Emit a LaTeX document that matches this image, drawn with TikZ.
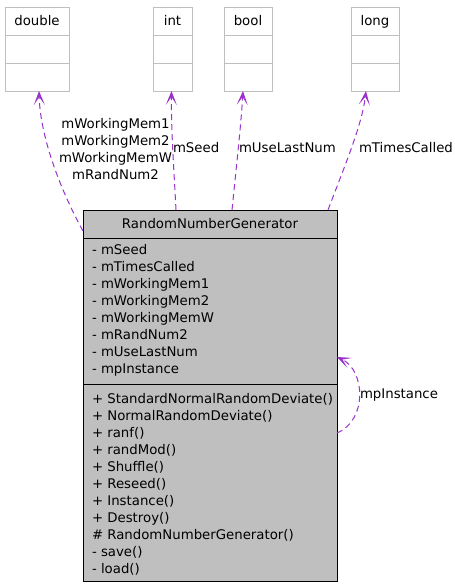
\documentclass[tikz,border=0pt]{standalone}
\usepackage{fontspec}
\setmainfont{DejaVu Sans}
\usetikzlibrary{arrows.meta,calc}
\definecolor{edgepurple}{HTML}{9A32CD}
\definecolor{boxgray}{HTML}{BFBFBF}
\begin{document}
\begin{tikzpicture}[x=1pt,y=-1pt,
  every node/.style={font=\fontsize{13.3}{17}\selectfont, inner sep=0pt, outer sep=0pt},
  typebox/.style={draw=boxgray, fill=white, line width=1pt, rectangle, anchor=north west, minimum height=84pt},
  typesep/.style={draw=boxgray, line width=1pt},
  classbox/.style={draw=black, fill=boxgray, line width=1pt, rectangle, anchor=north west, minimum width=254pt, minimum height=371.5pt},
  classsep/.style={draw=black, line width=1pt},
  member/.style={anchor=base west},
  boxtitle/.style={anchor=base},
  rel/.style={draw=edgepurple, line width=1pt, dash pattern=on 6pt off 4pt, -{Stealth[length=14pt,width=11pt,inset=8pt]}},
  rellabel/.style={anchor=base west}
]
\useasboundingbox (0,0) rectangle (455,587);

% type boxes
\node[typebox, minimum width=64pt] (dbl) at (5,7) {};
\node[typebox, minimum width=39pt] (int) at (153,7) {};
\node[typebox, minimum width=48pt] (bool) at (224,7) {};
\node[typebox, minimum width=48pt] (long) at (351,7) {};
\foreach \b in {dbl,int,bool,long}{
  \draw[typesep] ($(\b.north west)+(0,28)$) -- ($(\b.north east)+(0,28)$);
  \draw[typesep] ($(\b.north west)+(0,56)$) -- ($(\b.north east)+(0,56)$);
}
\node[boxtitle] (tdbl) at (37,25.5) {double};
\node[boxtitle] (tint) at (172.5,25.5) {int};
\node[boxtitle] (tbool) at (248,25.5) {bool};
\node[boxtitle] (tlong) at (375,25.5) {long};

% class box
\node[classbox] (main) at (83,210) {};
\draw[classsep] ($(main.north west)+(0,28)$) -- ($(main.north east)+(0,28)$);
\draw[classsep] ($(main.north west)+(0,174)$) -- ($(main.north east)+(0,174)$);
\node[boxtitle] (title) at (210,228) {RandomNumberGenerator};

\node[member] (a1) at (92,254) {- mSeed};
\node[member] (a2) at (92,271) {- mTimesCalled};
\node[member] (a3) at (92,288) {- mWorkingMem1};
\node[member] (a4) at (92,305) {- mWorkingMem2};
\node[member] (a5) at (92,322) {- mWorkingMemW};
\node[member] (a6) at (92,339) {- mRandNum2};
\node[member] (a7) at (92,356) {- mUseLastNum};
\node[member] (a8) at (92,373) {- mpInstance};

\node[member] (m1) at (92,403) {+ StandardNormalRandomDeviate()};
\node[member] (m2) at (92,420) {+ NormalRandomDeviate()};
\node[member] (m3) at (92,437) {+ ranf()};
\node[member] (m4) at (92,454) {+ randMod()};
\node[member] (m5) at (92,471) {+ Shuffle()};
\node[member] (m6) at (92,488) {+ Reseed()};
\node[member] (m7) at (92,505) {+ Instance()};
\node[member] (m8) at (92,522) {+ Destroy()};
\node[member] (m9) at (92,539) {\# RandomNumberGenerator()};
\node[member] (m10) at (92,556) {- save()};
\node[member] (m11) at (92,573) {- load()};

% relations
\draw[rel] ($(main.north west)+(0,21)$) .. controls (55,180) and (40,130) .. ($(dbl.south)+(2,0)$);
\draw[rel] ($(main.north west)+(93,0)$) .. controls (174,170) and (171,130) .. ($(int.south)+(-1,0)$);
\draw[rel] ($(main.north west)+(149,0)$) .. controls (236,170) and (241,125) .. ($(bool.south)+(-5,0)$);
\draw[rel] ($(main.north west)+(245,0)$) .. controls (345,165) and (362,125) .. ($(long.south)+(-9,0)$);
\draw[rel] ($(main.north east)+(0,223)$) .. controls (368,420) and (365,370) .. ($(main.north east)+(0,147)$);

% relation labels
\node[align=center, anchor=north] (lmem) at (115.5,118) {mWorkingMem1\\mWorkingMem2\\mWorkingMemW\\mRandNum2};
\node[rellabel] (lseed) at (173,152.7) {mSeed};
\node[rellabel] (luse) at (239,152.7) {mUseLastNum};
\node[rellabel] (ltimes) at (359,152.7) {mTimesCalled};
\node[rellabel] (linst) at (360,398) {mpInstance};
\end{tikzpicture}
\end{document}
